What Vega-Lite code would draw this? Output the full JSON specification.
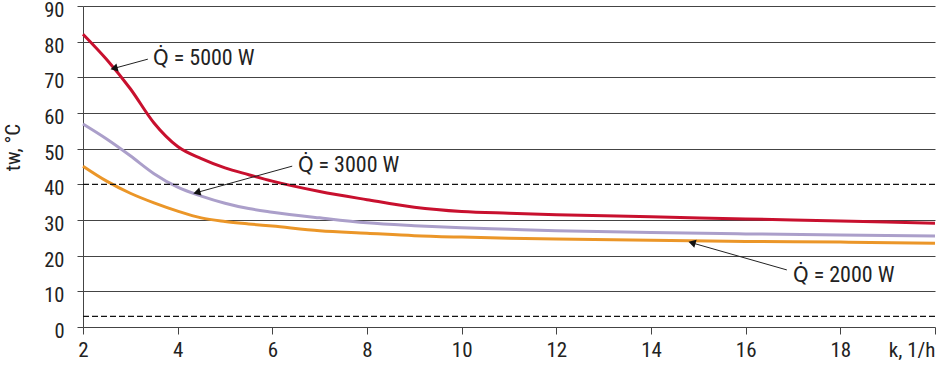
{
  "$schema": "https://vega.github.io/schema/vega-lite/v6.json",
  "width": 852,
  "height": 321,
  "autosize": {"type": "none"},
  "padding": {"left": 83, "top": 6, "right": 3, "bottom": 38},
  "background": "white",
  "config": {
    "view": {"stroke": null},
    "font": "Liberation Sans Narrow, Roboto Condensed, DejaVu Sans Condensed, sans-serif"
  },
  "resolve": {"axis": {"x": "independent", "y": "independent"}},
  "datasets": {
    "curves": [
      {"series": "5000", "k": 2, "t": 82.1}, {"series": "5000", "k": 2.5, "t": 75.0}, {"series": "5000", "k": 3, "t": 66.8}, {"series": "5000", "k": 3.5, "t": 57.2}, {"series": "5000", "k": 4, "t": 50.6}, {"series": "5000", "k": 4.5, "t": 47.2}, {"series": "5000", "k": 5, "t": 44.6}, {"series": "5000", "k": 5.5, "t": 42.7}, {"series": "5000", "k": 6, "t": 40.9}, {"series": "5000", "k": 7, "t": 38.0}, {"series": "5000", "k": 8, "t": 35.7}, {"series": "5000", "k": 9, "t": 33.6}, {"series": "5000", "k": 10, "t": 32.4}, {"series": "5000", "k": 11, "t": 31.9}, {"series": "5000", "k": 12, "t": 31.5}, {"series": "5000", "k": 14, "t": 30.9}, {"series": "5000", "k": 16, "t": 30.3}, {"series": "5000", "k": 18, "t": 29.7}, {"series": "5000", "k": 20, "t": 29.1},
      {"series": "3000", "k": 2, "t": 56.9}, {"series": "3000", "k": 2.5, "t": 52.7}, {"series": "3000", "k": 3, "t": 48.0}, {"series": "3000", "k": 3.5, "t": 43.0}, {"series": "3000", "k": 4, "t": 39.2}, {"series": "3000", "k": 4.5, "t": 36.7}, {"series": "3000", "k": 5, "t": 34.7}, {"series": "3000", "k": 5.5, "t": 33.2}, {"series": "3000", "k": 6, "t": 32.2}, {"series": "3000", "k": 7, "t": 30.6}, {"series": "3000", "k": 8, "t": 29.2}, {"series": "3000", "k": 9, "t": 28.4}, {"series": "3000", "k": 10, "t": 27.8}, {"series": "3000", "k": 11, "t": 27.4}, {"series": "3000", "k": 12, "t": 27.0}, {"series": "3000", "k": 14, "t": 26.5}, {"series": "3000", "k": 16, "t": 26.1}, {"series": "3000", "k": 18, "t": 25.8}, {"series": "3000", "k": 20, "t": 25.5},
      {"series": "2000", "k": 2, "t": 45.1}, {"series": "2000", "k": 2.5, "t": 40.9}, {"series": "2000", "k": 3, "t": 37.5}, {"series": "2000", "k": 3.5, "t": 34.8}, {"series": "2000", "k": 4, "t": 32.5}, {"series": "2000", "k": 4.5, "t": 30.6}, {"series": "2000", "k": 5, "t": 29.6}, {"series": "2000", "k": 5.5, "t": 28.9}, {"series": "2000", "k": 6, "t": 28.3}, {"series": "2000", "k": 7, "t": 27.0}, {"series": "2000", "k": 8, "t": 26.3}, {"series": "2000", "k": 9, "t": 25.6}, {"series": "2000", "k": 10, "t": 25.2}, {"series": "2000", "k": 11, "t": 24.9}, {"series": "2000", "k": 12, "t": 24.7}, {"series": "2000", "k": 14, "t": 24.3}, {"series": "2000", "k": 16, "t": 24.0}, {"series": "2000", "k": 18, "t": 23.8}, {"series": "2000", "k": 20, "t": 23.5}
    ],
    "limits": [{"level": 40}, {"level": 3}],
    "notes": [
      {"label": "Q\u0307 = 5000 W", "tk": 3.48, "tt": 75.4, "ak": 3.37, "at": 75.1, "hk": 2.68, "ht": 72.6},
      {"label": "Q\u0307 = 3000 W", "tk": 6.54, "tt": 45.4, "ak": 6.42, "at": 45.1, "hk": 4.43, "ht": 37.8},
      {"label": "Q\u0307 = 2000 W", "tk": 17.0, "tt": 14.6, "ak": 16.87, "at": 16.0, "hk": 14.89, "ht": 23.5}
    ]
  },
  "layer": [
    {
      "data": {"name": "curves"},
      "mark": {"type": "line", "interpolate": "monotone", "strokeWidth": 3},
      "encoding": {
        "x": {
          "field": "k", "type": "quantitative",
          "scale": {"domain": [2, 20], "nice": false, "zero": false},
          "axis": {
            "title": null,
            "values": [2, 4, 6, 8, 10, 12, 14, 16, 18, 20],
            "labelExpr": "datum.value == 20 ? 'k, 1/h' : datum.label",
            "labelAlign": {"condition": {"test": "datum.value == 20", "value": "right"}, "value": "center"},
            "labelFontSize": 21, "labelColor": "#222222", "labelPadding": 5,
            "labelOverlap": false, "labelBound": false, "labelFlush": false,
            "grid": false, "tickSize": 7, "tickColor": "#444444",
            "domainColor": "#444444", "domainWidth": 1
          }
        },
        "y": {
          "field": "t", "type": "quantitative",
          "scale": {"domain": [0, 90], "nice": false},
          "axis": {
            "title": "tw, \u00b0C",
            "titleFontSize": 21, "titleFontWeight": "normal", "titleColor": "#222222",
            "titlePadding": 20, "titleY": 141,
            "values": [0, 10, 20, 30, 40, 50, 60, 70, 80, 90],
            "labelFontSize": 20.5, "labelColor": "#222222", "labelPadding": 13, "labelOffset": 4.5,
            "grid": true, "gridColor": "#444444", "gridWidth": 1,
            "gridOpacity": {"condition": {"test": "datum.value == 40 || datum.value == 0", "value": 0}, "value": 1},
            "tickSize": 6, "tickColor": "#444444",
            "domainColor": "#444444", "domainWidth": 1
          }
        },
        "color": {
          "field": "series", "type": "nominal",
          "scale": {"domain": ["5000", "3000", "2000"], "range": ["#c8102e", "#ab9fca", "#eb9628"]},
          "legend": null
        }
      }
    },
    {
      "data": {"name": "limits"},
      "mark": {"type": "rule", "color": "#111111", "strokeWidth": 1.3, "strokeDash": [6, 3]},
      "encoding": {
        "y": {"field": "level", "type": "quantitative", "scale": {"domain": [0, 90], "nice": false}, "axis": null}
      }
    },
    {
      "data": {"name": "notes"},
      "mark": {"type": "rule", "color": "#222222", "strokeWidth": 1},
      "encoding": {
        "x": {"field": "ak", "type": "quantitative", "scale": {"domain": [2, 20], "nice": false, "zero": false}, "axis": null},
        "y": {"field": "at", "type": "quantitative", "scale": {"domain": [0, 90], "nice": false}, "axis": null},
        "x2": {"field": "hk"},
        "y2": {"field": "ht"}
      }
    },
    {
      "data": {"name": "notes"},
      "transform": [{"filter": "datum.label == 'Q\u0307 = 5000 W'"}],
      "mark": {"type": "point", "shape": "triangle", "filled": true, "color": "#111111", "size": 70, "angle": 255, "opacity": 1},
      "encoding": {
        "x": {"field": "hk", "type": "quantitative", "scale": {"domain": [2, 20], "nice": false, "zero": false}, "axis": null},
        "y": {"field": "ht", "type": "quantitative", "scale": {"domain": [0, 90], "nice": false}, "axis": null}
      }
    },
    {
      "data": {"name": "notes"},
      "transform": [{"filter": "datum.label == 'Q\u0307 = 3000 W'"}],
      "mark": {"type": "point", "shape": "triangle", "filled": true, "color": "#111111", "size": 70, "angle": 255, "opacity": 1},
      "encoding": {
        "x": {"field": "hk", "type": "quantitative", "scale": {"domain": [2, 20], "nice": false, "zero": false}, "axis": null},
        "y": {"field": "ht", "type": "quantitative", "scale": {"domain": [0, 90], "nice": false}, "axis": null}
      }
    },
    {
      "data": {"name": "notes"},
      "transform": [{"filter": "datum.label == 'Q\u0307 = 2000 W'"}],
      "mark": {"type": "point", "shape": "triangle", "filled": true, "color": "#111111", "size": 70, "angle": 286, "opacity": 1},
      "encoding": {
        "x": {"field": "hk", "type": "quantitative", "scale": {"domain": [2, 20], "nice": false, "zero": false}, "axis": null},
        "y": {"field": "ht", "type": "quantitative", "scale": {"domain": [0, 90], "nice": false}, "axis": null}
      }
    },
    {
      "data": {"name": "notes"},
      "mark": {"type": "text", "align": "left", "baseline": "middle", "fontSize": 22, "color": "#222222"},
      "encoding": {
        "x": {"field": "tk", "type": "quantitative", "scale": {"domain": [2, 20], "nice": false, "zero": false}, "axis": null},
        "y": {"field": "tt", "type": "quantitative", "scale": {"domain": [0, 90], "nice": false}, "axis": null},
        "text": {"field": "label"}
      }
    }
  ]
}
